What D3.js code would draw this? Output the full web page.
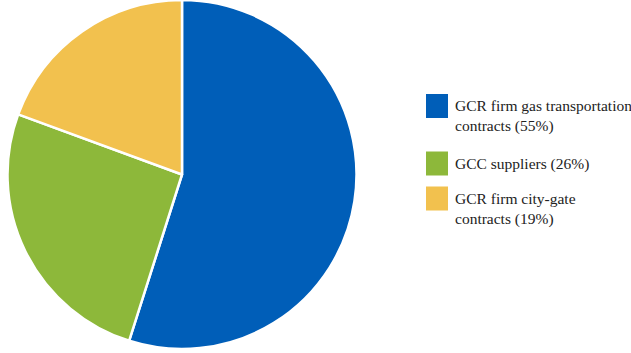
<!DOCTYPE html>
<html><head><meta charset="utf-8">
<script src="https://cdn.jsdelivr.net/npm/d3@7"></script>
<style>html,body{margin:0;padding:0;background:#fff;}svg{display:block;}
.leg{font-family:"Liberation Serif","DejaVu Serif",serif;font-size:15.5px;fill:#222;}</style>
</head><body>
<svg id="chart" width="631" height="353"></svg>
<script>
const categories = ["GCR firm gas transportation contracts (55%)", "GCC suppliers (26%)", "GCR firm city-gate contracts (19%)"];
const legendLines = [["GCR firm gas transportation", "contracts (55%)"], ["GCC suppliers (26%)"], ["GCR firm city-gate", "contracts (19%)"]];
const values = [54.9, 25.7, 19.4];
const colors = ["#005EB8", "#8DB83A", "#F2C14E"];

const svg = d3.select("#chart");
const cx = 182, cy = 174.5, r = 174.5;
const pie = d3.pie().sort(null).value(d => d)(values);
const arc = d3.arc().innerRadius(0).outerRadius(r);
const g = svg.append("g").attr("transform", `translate(${cx},${cy})`);
g.selectAll("path").data(pie).join("path")
  .attr("d", arc).attr("fill", (d, i) => colors[i])
  .attr("stroke", "#fff").attr("stroke-width", 2.5).attr("stroke-linejoin", "round");

const legendY = [94, 151.5, 186.5];
const lg = svg.append("g");
legendLines.forEach((lines, i) => {
  lg.append("rect").attr("x", 426).attr("y", legendY[i]).attr("width", 22).attr("height", 24).attr("fill", colors[i]);
  const t = lg.append("text").attr("class", "leg").attr("x", 455).attr("y", legendY[i] + 17);
  lines.forEach((l, j) => t.append("tspan").attr("x", 455).attr("dy", j === 0 ? 0 : 20).text(l));
});
</script>
</body></html>
